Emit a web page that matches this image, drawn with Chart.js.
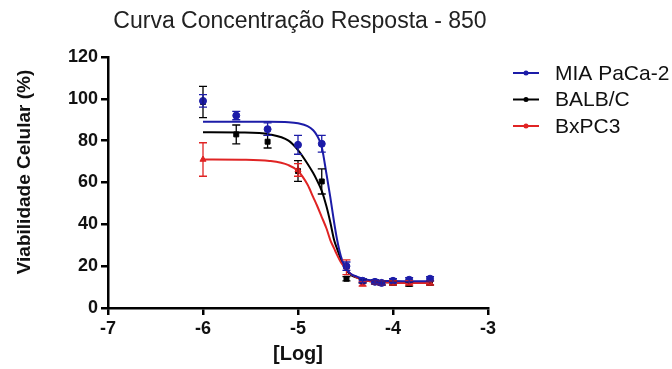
<!DOCTYPE html>
<html lang="pt">
<head>
  <meta charset="UTF-8">
  <title>Curva Concentração Resposta - 850</title>
  <style>
    body { margin: 0; background: #fff; }
    canvas { display: block; }
  </style>
</head>
<body>
<canvas id="curva" width="672" height="369"></canvas>

<script src="https://cdn.jsdelivr.net/npm/chart.js"></script>
<script>
// dados
const seriesNames = ['MIA PaCa-2', 'BALB/C', 'BxPC3'];
const seriesColors = ['#1c1ca8', '#000000', '#e02424'];

const logConc = [-6, -5.65, -5.32, -5.0, -4.75, -4.49, -4.32, -4.19, -4.12, -4.0, -3.83, -3.61];
const miaMean = [99, 92, 85.5, 78, 78.5, 20, 13, 12.5, 12, 13, 13.5, 14];
const miaErr  = [3, 2, 3, 4.5, 4, 2, 1, 1, 1, 1, 1, 1];
const balbMean = [98.5, 83, 79.5, 65.5, 60.5, 14, 13, 12.5, 12, 12, 11.5, 12];
const balbErr  = [7.5, 4.5, 3, 5, 6, 1, 1, 1, 1, 1, 1, 1];
const bxMean = [71, null, null, 66, null, 19.5, 11.5, 12.5, 12, 12, 12, 12];
const bxErr  = [8, 0, 0, 3, 0, 3.5, 1, 1, 1, 1, 1, 1];

// curvas ajustadas (lidas ponto a ponto do gráfico)
const fitX = [-6, -5.6, -5.3, -5.1, -5.0, -4.9, -4.84, -4.8, -4.75, -4.7, -4.66, -4.62, -4.59, -4.55, -4.51, -4.45, -4.38, -4.3, -4.2, -4.0, -3.8, -3.61];
const miaFit  = [89, 89, 89, 88.8, 88.3, 87, 85, 82.5, 77, 64, 53, 41, 33, 25, 20, 16.5, 15, 13.8, 13.2, 12.9, 12.8, 12.8];
const balbFit = [84, 83.9, 83, 80, 75.5, 69, 64.5, 61, 56, 48.5, 41, 32.5, 28.5, 23.5, 19.5, 16, 14.5, 13.3, 12.6, 12.2, 12, 12];
const bxFit   = [71, 70.9, 70.3, 68.3, 65.5, 59, 53, 49, 43.5, 38, 32.5, 28.5, 25.5, 22, 19.6, 16.5, 14.5, 13.2, 12.5, 12.1, 12, 12];

const xTicks = [-7, -6, -5, -4, -3];
const yTicks = [0, 20, 40, 60, 80, 100, 120];

const means = [miaMean, balbMean, bxMean];
const errs = [miaErr, balbErr, bxErr];
const fits = [miaFit, balbFit, bxFit];
const pointStyles = ['circle', 'rect', 'triangle'];

function pts(xs, ys) {
  return xs.map((x, i) => ({ x: x, y: ys[i] })).filter(p => p.y !== null);
}

const datasets = [];
const drawOrder = [1, 3, 2]; // azul por cima, depois vermelho, depois preto
seriesNames.forEach((name, s) => {
  datasets.push({
    label: name,
    data: pts(fitX, fits[s]),
    showLine: true,
    borderColor: seriesColors[s],
    borderWidth: 2,
    pointRadius: 0,
    cubicInterpolationMode: 'monotone',
    order: drawOrder[s]
  });
  datasets.push({
    label: name + ' pontos',
    data: pts(logConc, means[s]),
    showLine: false,
    pointStyle: pointStyles[s],
    pointRadius: 3.5,
    backgroundColor: seriesColors[s],
    borderColor: seriesColors[s],
    order: drawOrder[s]
  });
});

const errorBars = {
  id: 'errorBars',
  afterDatasetsDraw(chart) {
    const ctx = chart.ctx, xs = chart.scales.x, ys = chart.scales.y;
    ctx.save();
    ctx.lineWidth = 1.3;
    [1, 2, 0].forEach(s => {
      ctx.strokeStyle = seriesColors[s];
      logConc.forEach((x, i) => {
        const m = means[s][i], e = errs[s][i];
        if (m === null || !e) return;
        const px = xs.getPixelForValue(x);
        const top = ys.getPixelForValue(m + e), bot = ys.getPixelForValue(m - e);
        ctx.beginPath();
        ctx.moveTo(px, top); ctx.lineTo(px, bot);
        ctx.moveTo(px - 4, top); ctx.lineTo(px + 4, top);
        ctx.moveTo(px - 4, bot); ctx.lineTo(px + 4, bot);
        ctx.stroke();
      });
    });
    ctx.restore();
  }
};

const FONT = '"Liberation Sans", Arial, sans-serif';

const labelsAndLegend = {
  id: 'labelsAndLegend',
  afterDraw(chart) {
    const ctx = chart.ctx;
    ctx.save();
    // título
    ctx.fillStyle = '#222';
    ctx.font = '23px ' + FONT;
    ctx.textAlign = 'center';
    ctx.textBaseline = 'alphabetic';
    ctx.fillText('Curva Concentração Resposta - 850', 300, 28);

    // títulos dos eixos
    ctx.fillStyle = '#111';
    ctx.font = 'bold 20px ' + FONT;
    ctx.textBaseline = 'middle';
    ctx.fillText('[Log]', 298, 354);
    ctx.save();
    ctx.translate(25, 172);
    ctx.rotate(-Math.PI / 2);
    ctx.font = 'bold 19px ' + FONT;
    ctx.fillText('Viabilidade Celular (%)', 0, 0);
    ctx.restore();

    // legenda
    ctx.textAlign = 'left';
    ctx.font = '21px ' + FONT;
    seriesNames.forEach((name, s) => {
      const y = 73 + s * 26.5;
      ctx.strokeStyle = seriesColors[s];
      ctx.fillStyle = seriesColors[s];
      ctx.lineWidth = 2;
      ctx.beginPath(); ctx.moveTo(513, y); ctx.lineTo(539, y); ctx.stroke();
      ctx.beginPath(); ctx.arc(526, y, 2.5, 0, Math.PI * 2); ctx.fill();
      ctx.fillStyle = '#111';
      ctx.fillText(name, 555, y + 1);
    });
    ctx.restore();
  }
};

const tickFont = { family: FONT, size: 18, weight: 'bold' };

new Chart(document.getElementById('curva'), {
  type: 'scatter',
  data: { datasets: datasets },
  options: {
    responsive: false,
    animation: false,
    devicePixelRatio: 1,
    layout: { padding: { top: 57, right: 184, left: 0, bottom: 0 } },
    plugins: { legend: { display: false }, tooltip: { enabled: false } },
    scales: {
      x: {
        type: 'linear',
        min: -7, max: -3,
        afterBuildTicks: sc => { sc.ticks = xTicks.map(v => ({ value: v })); },
        afterFit: sc => { sc.height = 61; },
        grid: { drawOnChartArea: false, drawTicks: true, tickLength: 7, lineWidth: 2.5, color: '#000' },
        border: { color: '#000', width: 2.5 },
        ticks: { color: '#111', font: tickFont, padding: 3 }
      },
      y: {
        min: 0, max: 120,
        afterBuildTicks: sc => { sc.ticks = yTicks.map(v => ({ value: v })); },
        afterFit: sc => { sc.width = 108; },
        grid: { drawOnChartArea: false, drawTicks: true, tickLength: 7, lineWidth: 2.5, color: '#000' },
        border: { color: '#000', width: 2.5 },
        ticks: { color: '#111', font: tickFont, padding: 3 }
      }
    }
  },
  plugins: [errorBars, labelsAndLegend]
});
</script>
</body>
</html>
